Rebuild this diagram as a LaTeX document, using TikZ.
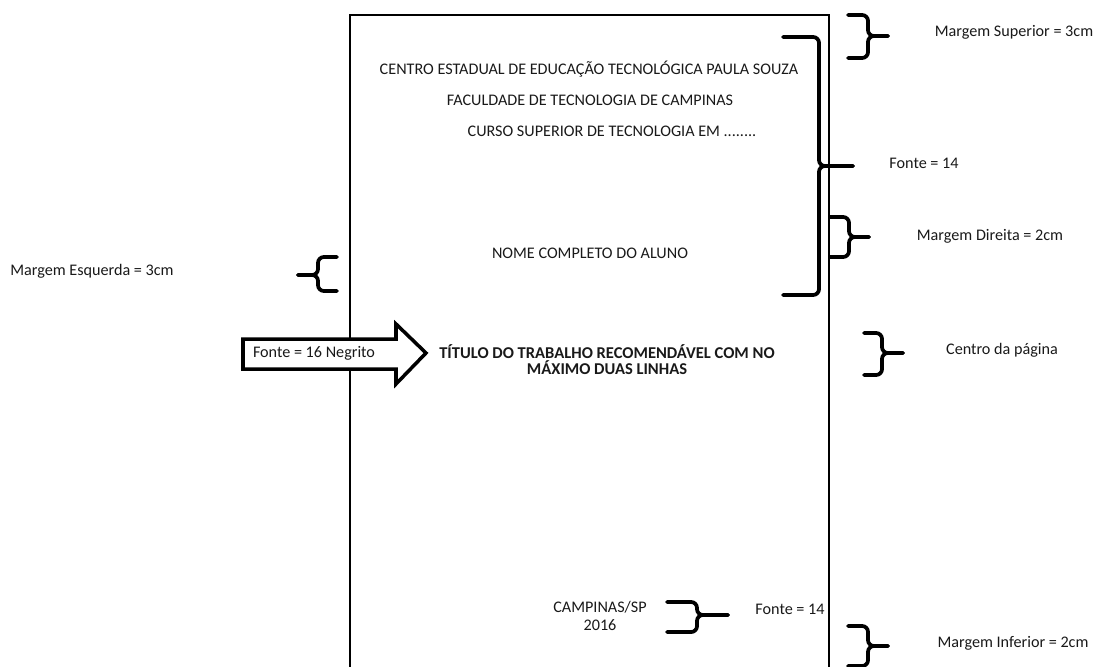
\documentclass[tikz,border=0pt]{standalone}
\usepackage{fontspec}
\setmainfont{Carlito}
\newcommand\AnnBrace[6]{% xl, yt, xv, ym, yb, xt
  \draw[brace] (#1,#2) -- (#3,#2) -- (#3,#4) -- (#6,#4);
  \draw[brace] (#1,#5) -- (#3,#5) -- (#3,#4) -- (#6,#4);}
\begin{document}
\begin{tikzpicture}[x=0.03cm,y=-0.03cm,
  txt/.style={inner sep=0pt, font=\fontsize{13.8}{15.4}\selectfont, text=black!90},
  bold/.style={txt, font=\fontsize{14.1}{13.7}\selectfont\bfseries, align=center},
  brace/.style={line width=3.2pt, line cap=round, line join=round, rounded corners=5pt},
  page/.style={line width=1.2pt},
  arrowbox/.style={line width=3pt, line join=miter, fill=white}]
\useasboundingbox (0,0) rectangle (1097,666);
\clip (0,0) rectangle (1097,666);
% page
\draw[page] (350,690) -- (350,15) -- (829,15) -- (829,690);
% page texts
\node[txt] (t1) at (589,69) {CENTRO ESTADUAL DE EDUCAÇÃO TECNOLÓGICA PAULA SOUZA};
\node[txt] (t2) at (590,100) {FACULDADE DE TECNOLOGIA DE CAMPINAS};
\node[txt] (t3) at (612,131) {CURSO SUPERIOR DE TECNOLOGIA EM ........};
\node[txt] (t4) at (590,253) {NOME COMPLETO DO ALUNO};
\node[bold] (t5) at (607,360) {TÍTULO DO TRABALHO RECOMENDÁVEL COM NO\\MÁXIMO DUAS LINHAS};
\node[txt, align=center] (t6) at (600,616) {CAMPINAS/SP\\2016};
% labels
\node[txt] (l1) at (1014,32) {Margem Superior = 3cm};
\node[txt] (l2) at (924,163) {Fonte = 14};
\node[txt] (l3) at (990,236) {Margem Direita = 2cm};
\node[txt] (l4) at (92,271) {Margem Esquerda = 3cm};
\node[txt] (l5) at (1002,350) {Centro da página};
\node[txt] (l6) at (790,609) {Fonte = 14};
\node[txt] (l7) at (1013,643) {Margem Inferior = 2cm};
% arrow
\draw[arrowbox] (243,339) -- (396,339) -- (396,324) -- (426,353) -- (396,384) -- (396,369) -- (243,369) -- cycle;
\node[txt] (l8) at (314,353) {Fonte = 16 Negrito};
% braces
\AnnBrace{848}{15}{868}{36}{58}{888}
\AnnBrace{783}{37}{819}{166}{295}{853}
\AnnBrace{830}{217}{849}{237}{257}{869}
\AnnBrace{337}{257}{318}{275}{291}{298}
\AnnBrace{864}{333}{882}{353}{375}{903}
\AnnBrace{667}{602}{697}{615}{632}{728}
\AnnBrace{848}{626}{868}{646}{666}{888}
\end{tikzpicture}
\end{document}
